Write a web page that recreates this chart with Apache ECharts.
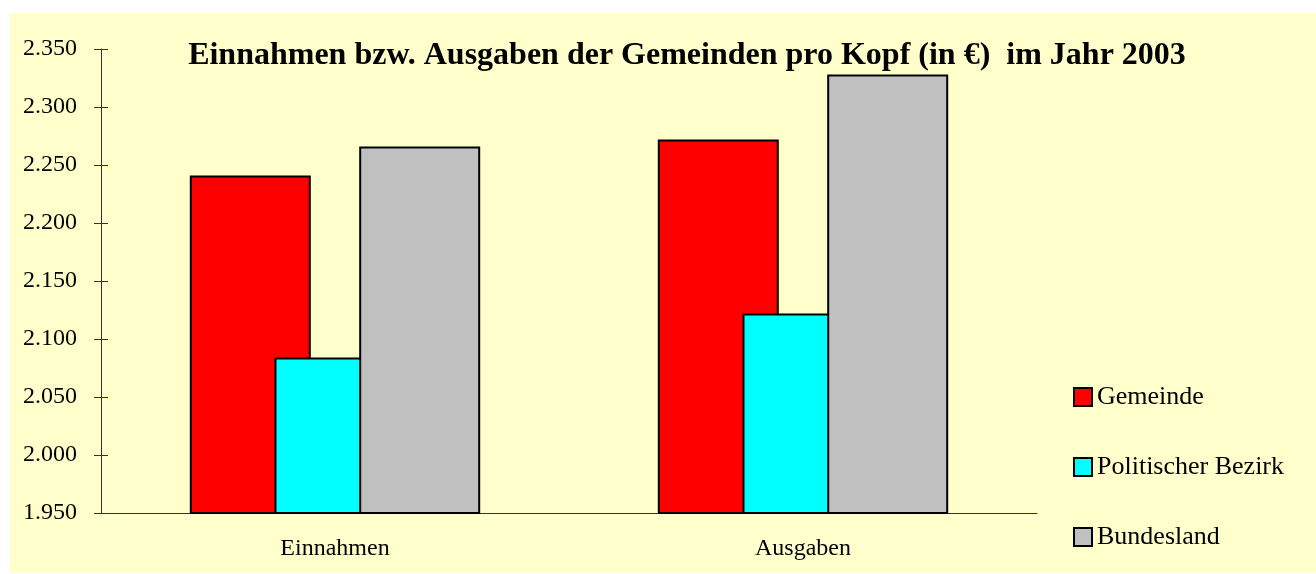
<!DOCTYPE html>
<html>
<head>
<meta charset="utf-8">
<script src="https://cdn.jsdelivr.net/npm/echarts@6/dist/echarts.min.js"></script>
<style>
  html, body { margin: 0; padding: 0; background: #ffffff; }
  #chart {
    position: absolute;
    left: 10px;
    top: 13px;
    width: 1306px;
    height: 560px;
    background: #ffffcc;
  }
</style>
</head>
<body>
<div id="chart"></div>
<script>
// Kategorien und Werte (Euro pro Kopf)
var categories = ['Einnahmen', 'Ausgaben']
var gemeinde = [2241, 2272]
var bezirk = [2084, 2122]
var bundesland = [2266, 2328]
var seriesNames = ['Gemeinde', 'Politischer Bezirk', 'Bundesland']
var seriesColors = ['#ff0000', '#00ffff', '#c0c0c0']

var myChart = echarts.init(document.getElementById('chart'))

var font = '"Liberation Serif", "Times New Roman", serif'
var axisColor = '#333333'

// deutsches Zahlenformat: 2.350
function fmt(v) {
  var s = String(Math.round(v))
  return s.slice(0, s.length - 3) + '.' + s.slice(-3)
}

function barSeries(name, data, color) {
  return {
    name: name,
    type: 'bar',
    data: data,
    barWidth: 121,
    barGap: '-30%',
    itemStyle: {
      color: color,
      borderColor: '#000000',
      borderWidth: 2
    }
  }
}

var option = {
  backgroundColor: '#ffffcc',
  animation: false,
  title: {
    text: 'Einnahmen bzw. Ausgaben der Gemeinden pro Kopf (in €)  im Jahr 2003',
    left: 672,
    top: 22,
    textAlign: 'center',
    textStyle: {
      fontFamily: font,
      fontWeight: 'bold',
      fontSize: 32,
      color: '#000000'
    }
  },
  legend: {
    orient: 'vertical',
    left: 1063,
    top: 371,
    padding: 0,
    itemWidth: 18,
    itemHeight: 18,
    itemGap: 44,
    icon: 'rect',
    data: seriesNames,
    itemStyle: {
      borderColor: '#000000',
      borderWidth: 2
    },
    textStyle: {
      fontFamily: font,
      fontSize: 26,
      lineHeight: 26,
      color: '#000000'
    }
  },
  grid: {
    left: 91,
    right: 279,
    top: 36,
    bottom: 60
  },
  xAxis: [
    {
      type: 'category',
      data: categories,
      axisLine: { lineStyle: { color: axisColor, width: 1 } },
      axisTick: { length: 7, lineStyle: { color: axisColor } },
      axisLabel: {
        fontFamily: font,
        fontSize: 24,
        color: '#000000',
        margin: 24
      }
    },
    {
      // Teilstriche nach innen
      type: 'category',
      data: categories,
      position: 'bottom',
      axisLine: { show: false },
      axisTick: { inside: true, length: 7, lineStyle: { color: axisColor } },
      axisLabel: { show: false }
    }
  ],
  yAxis: [
    {
      type: 'value',
      min: 1950,
      max: 2350,
      interval: 50,
      axisLine: { show: true, lineStyle: { color: axisColor, width: 1 } },
      axisTick: { show: true, length: 7, lineStyle: { color: axisColor } },
      splitLine: { show: false },
      axisLabel: {
        fontFamily: font,
        fontSize: 24,
        color: '#000000',
        margin: 24,
        formatter: fmt
      }
    },
    {
      type: 'value',
      min: 1950,
      max: 2350,
      interval: 50,
      position: 'left',
      axisLine: { show: false },
      axisTick: { show: true, inside: true, length: 7, lineStyle: { color: axisColor } },
      splitLine: { show: false },
      axisLabel: { show: false }
    }
  ],
  series: [
    barSeries(seriesNames[0], gemeinde, seriesColors[0]),
    barSeries(seriesNames[1], bezirk, seriesColors[1]),
    barSeries(seriesNames[2], bundesland, seriesColors[2])
  ]
}

myChart.setOption(option)
</script>
</body>
</html>
